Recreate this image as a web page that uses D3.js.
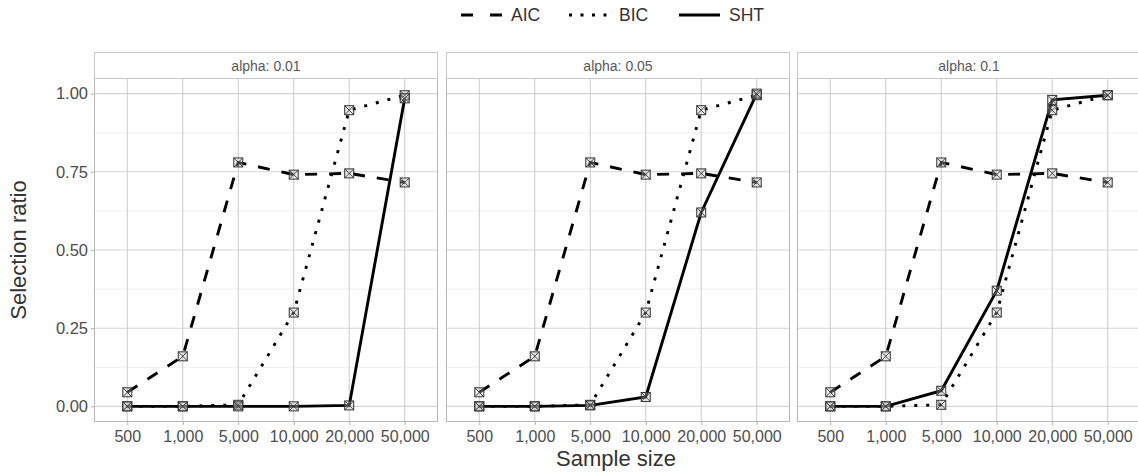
<!DOCTYPE html>
<html>
<head>
<meta charset="utf-8">
<script src="https://cdn.jsdelivr.net/npm/d3@7"></script>
<style>
  body { margin: 0; background: #fff; }
  svg { display: block; font-family: "Liberation Sans", Arial, sans-serif; }
</style>
</head>
<body>
<script>
// chart values
var sampleSizes = ['500', '1,000', '5,000', '10,000', '20,000', '50,000']
var alphas = ['0.01', '0.05', '0.1']
var methods = ['AIC', 'BIC', 'SHT']

var aic = [0.045, 0.16, 0.78, 0.741, 0.745, 0.716]
var bic = [0, 0, 0.005, 0.30, 0.947, 0.995]
var sht01 = [0, 0, 0, 0, 0.003, 0.985]
var sht05 = [0, 0, 0.003, 0.03, 0.62, 1.0]
var sht10 = [0, 0, 0.05, 0.37, 0.98, 0.995]
var shtByAlpha = [sht01, sht05, sht10]

var yTicks = [0, 0.25, 0.5, 0.75, 1]
var yMinor = [0.125, 0.375, 0.625, 0.875]

var W = 1138, H = 474
var panelW = 344, panelTop = 78, panelBottom = 422
var stripTop = 52
var panelLefts = [94, 446, 797]

var dashes = { AIC: '12,12', BIC: '3,9', SHT: null }

var svg = d3.select('body').append('svg')
  .attr('width', W).attr('height', H)

var y = d3.scaleLinear().domain([-0.05, 1.05]).range([panelBottom, panelTop])

alphas.forEach(function(a, i) {
  var left = panelLefts[i]
  var x = d3.scalePoint().domain(sampleSizes).range([left, left + panelW]).padding(0.6)
  var g = svg.append('g')

  // grid
  g.selectAll('.minor').data(yMinor).enter().append('line')
    .attr('x1', left).attr('x2', left + panelW)
    .attr('y1', y).attr('y2', y)
    .attr('stroke', '#ebebeb').attr('stroke-width', 0.8)
  g.selectAll('.hmaj').data(yTicks).enter().append('line')
    .attr('x1', left).attr('x2', left + panelW)
    .attr('y1', y).attr('y2', y)
    .attr('stroke', '#d4d4d4').attr('stroke-width', 1.1)
  g.selectAll('.vmaj').data(sampleSizes).enter().append('line')
    .attr('x1', x).attr('x2', x)
    .attr('y1', panelTop).attr('y2', panelBottom)
    .attr('stroke', '#cfcfcf').attr('stroke-width', 1.1)

  // panel border
  g.append('rect')
    .attr('x', left + 0.5).attr('y', panelTop + 0.5)
    .attr('width', panelW - 1).attr('height', panelBottom - panelTop - 1)
    .attr('fill', 'none').attr('stroke', '#b8b8b8')

  // strip
  g.append('rect')
    .attr('x', left + 0.5).attr('y', stripTop + 0.5)
    .attr('width', panelW - 1).attr('height', panelTop - stripTop)
    .attr('fill', '#fff').attr('stroke', '#c8c8c8')
  g.append('text')
    .attr('x', left + panelW / 2).attr('y', (stripTop + panelTop) / 2 + 1)
    .attr('text-anchor', 'middle').attr('dominant-baseline', 'central')
    .attr('font-size', 14).attr('fill', '#595959')
    .text('alpha: ' + a)

  // x axis
  var xa = g.append('g').attr('transform', 'translate(0,' + panelBottom + ')')
    .call(d3.axisBottom(x).tickSize(3).tickPadding(6))
  xa.select('.domain').remove()
  xa.selectAll('line').attr('stroke', '#b3b3b3')
  xa.selectAll('text').attr('font-size', 16).attr('fill', '#4d4d4d')
    .attr('font-family', '"Liberation Sans", Arial, sans-serif')

  if (i === 0) {
    var ya = g.append('g').attr('transform', 'translate(' + left + ',0)')
      .call(d3.axisLeft(y).tickValues(yTicks).tickFormat(d3.format('.2f')).tickSize(3).tickPadding(3))
    ya.select('.domain').remove()
    ya.selectAll('line').attr('stroke', '#b3b3b3')
    ya.selectAll('text').attr('font-size', 16.5).attr('fill', '#4d4d4d')
      .attr('font-family', '"Liberation Sans", Arial, sans-serif')
  }

  // series
  var series = [
    { name: 'AIC', values: aic },
    { name: 'BIC', values: bic },
    { name: 'SHT', values: shtByAlpha[i] }
  ]
  var line = d3.line()
    .x(function(d, j) { return x(sampleSizes[j]) })
    .y(function(d) { return y(d) })

  series.forEach(function(s) {
    g.append('path')
      .attr('d', line(s.values))
      .attr('fill', 'none').attr('stroke', '#000')
      .attr('stroke-width', 2.9)
      .attr('stroke-dasharray', dashes[s.name])
  })

  series.forEach(function(s) {
    var pts = g.selectAll(null).data(s.values).enter().append('g')
      .attr('transform', function(d, j) { return 'translate(' + x(sampleSizes[j]) + ',' + y(d) + ')' })
    pts.append('rect')
      .attr('x', -4.5).attr('y', -4.5).attr('width', 9).attr('height', 9)
      .attr('fill', 'rgba(200,200,200,0.35)').attr('stroke', '#333').attr('stroke-width', 1)
    pts.append('path')
      .attr('d', 'M-4.5,-4.5L4.5,4.5M-4.5,4.5L4.5,-4.5')
      .attr('stroke', '#333').attr('stroke-width', 0.9)
  })
})

// axis titles
svg.append('text')
  .attr('x', 616).attr('y', 466)
  .attr('text-anchor', 'middle').attr('font-size', 22).attr('fill', '#333')
  .text('Sample size')
svg.append('text')
  .attr('transform', 'translate(26,250) rotate(-90)')
  .attr('text-anchor', 'middle').attr('font-size', 22).attr('fill', '#333')
  .text('Selection ratio')

// legend
var legendX = [461, 569, 679]
var leg = svg.append('g')
methods.forEach(function(m, k) {
  var lx = legendX[k]
  leg.append('line')
    .attr('x1', lx).attr('x2', lx + 41).attr('y1', 15).attr('y2', 15)
    .attr('stroke', '#000').attr('stroke-width', 2.9)
    .attr('stroke-dasharray', m === 'AIC' ? '12,17' : (m === 'BIC' ? '3,8.5' : null))
  leg.append('text')
    .attr('x', lx + 50).attr('y', 15).attr('dominant-baseline', 'central')
    .attr('font-size', 17.5).attr('fill', '#333')
    .text(m)
})
</script>
</body>
</html>
